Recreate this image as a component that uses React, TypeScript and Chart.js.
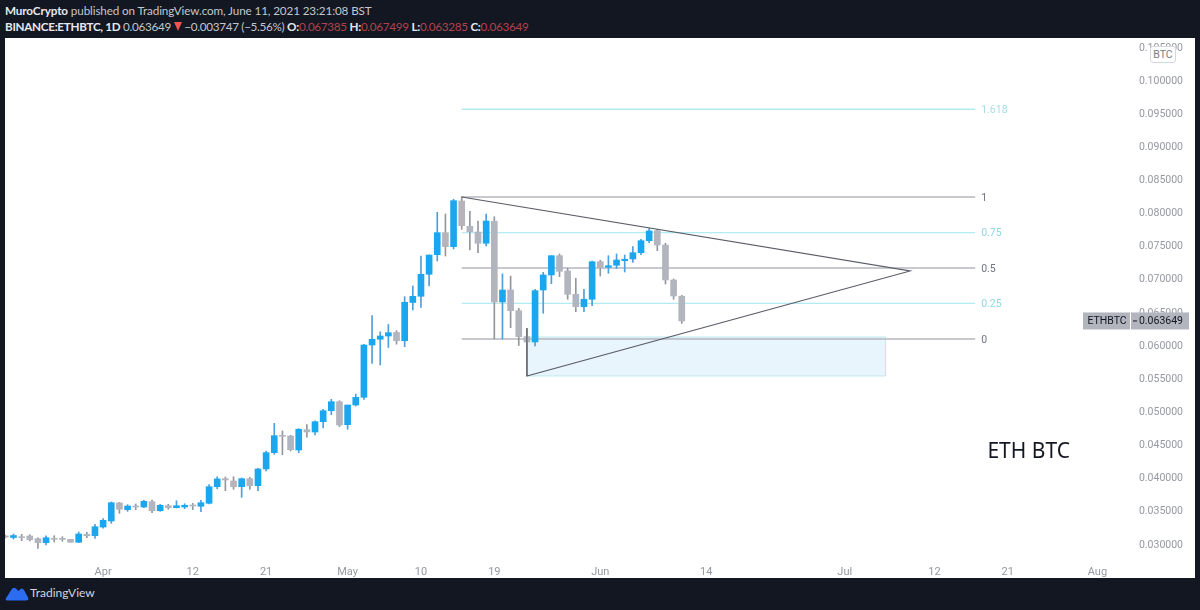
import React, { useEffect, useRef } from "react";
import { Chart, registerables } from "chart.js";

Chart.register(...registerables);

// day numbers count from 1 Apr = 0, first candle sits at day -12
const firstDay = -12;

const opens = [
  0.03121, 0.03098, 0.0311, 0.03121, 0.0308, 0.0302, 0.03086, 0.03086, 0.03071, 0.03026, 0.03146, 0.03125,
  0.03256, 0.03347, 0.03619, 0.03518, 0.03573, 0.03558, 0.03638, 0.03502, 0.03578, 0.03548, 0.03558, 0.03588,
  0.03569, 0.03614, 0.03865, 0.03985, 0.03951, 0.03865, 0.03985, 0.0388, 0.04132, 0.04378, 0.0464, 0.0463,
  0.04418, 0.04725, 0.0469, 0.04845, 0.05011, 0.05147, 0.048, 0.05097, 0.05213, 0.06002, 0.06089, 0.06138,
  0.06191, 0.06067, 0.06644, 0.06737, 0.07069, 0.07365, 0.07697, 0.07486, 0.08175, 0.07793, 0.07707, 0.07537,
  0.07869, 0.06651, 0.06832, 0.0652, 0.06128, 0.06048, 0.06832, 0.07059, 0.0735, 0.07119, 0.06767, 0.0658,
  0.06692, 0.07259, 0.07175, 0.07205, 0.07274, 0.073, 0.07395, 0.07576, 0.07727, 0.07511, 0.06983, 0.067385,
];
const highs = [
  0.03136, 0.03151, 0.03146, 0.0314, 0.03095, 0.03125, 0.03125, 0.0311, 0.03071, 0.03181, 0.03177, 0.03297,
  0.03382, 0.03634, 0.03629, 0.03593, 0.03604, 0.03664, 0.03664, 0.03599, 0.03599, 0.03653, 0.03608, 0.03614,
  0.03659, 0.03895, 0.04015, 0.04011, 0.04015, 0.03996, 0.04006, 0.04142, 0.04403, 0.04821, 0.04705, 0.0464,
  0.0474, 0.048, 0.0486, 0.05032, 0.05183, 0.05162, 0.05097, 0.05263, 0.06013, 0.06445, 0.06203, 0.06312,
  0.06218, 0.06731, 0.06893, 0.07345, 0.0736, 0.08005, 0.07979, 0.08201, 0.0824, 0.0802, 0.07873, 0.07979,
  0.07938, 0.07074, 0.07041, 0.06556, 0.06254, 0.06843, 0.07099, 0.0735, 0.07376, 0.0716, 0.07009, 0.06843,
  0.0727, 0.07281, 0.0735, 0.07376, 0.0736, 0.07486, 0.07597, 0.07763, 0.07748, 0.07537, 0.06998, 0.067499,
];
const lows = [
  0.03091, 0.03075, 0.0305, 0.03045, 0.02935, 0.02985, 0.0303, 0.03041, 0.03026, 0.0302, 0.03095, 0.03086,
  0.03237, 0.03312, 0.03463, 0.03493, 0.03518, 0.03548, 0.03472, 0.03493, 0.03524, 0.03543, 0.03533, 0.03518,
  0.03487, 0.03604, 0.03834, 0.03804, 0.03825, 0.03705, 0.03825, 0.03804, 0.04101, 0.04353, 0.04347, 0.04403,
  0.04378, 0.0461, 0.04645, 0.0475, 0.04951, 0.0477, 0.04731, 0.05082, 0.05183, 0.05726, 0.05701, 0.05965,
  0.06015, 0.05977, 0.06531, 0.06571, 0.06893, 0.0727, 0.07345, 0.07451, 0.07748, 0.07436, 0.07395, 0.07496,
  0.06093, 0.06093, 0.06264, 0.05995, 0.05539, 0.05987, 0.06481, 0.06927, 0.07033, 0.06692, 0.06505, 0.06505,
  0.06595, 0.07044, 0.07084, 0.07154, 0.07104, 0.0725, 0.07365, 0.07546, 0.07425, 0.06923, 0.06692, 0.063285,
];
const closes = [
  0.03106, 0.03128, 0.03095, 0.03065, 0.0302, 0.03095, 0.03071, 0.03071, 0.03026, 0.03151, 0.03125, 0.03261,
  0.03358, 0.03623, 0.03524, 0.03573, 0.03558, 0.03644, 0.03502, 0.03584, 0.03548, 0.03578, 0.03584, 0.03573,
  0.03623, 0.03865, 0.03981, 0.03966, 0.03865, 0.03985, 0.0388, 0.04132, 0.04378, 0.04634, 0.04625, 0.04423,
  0.04731, 0.0469, 0.04845, 0.05011, 0.05147, 0.04795, 0.05097, 0.05213, 0.06002, 0.06089, 0.06138, 0.06188,
  0.06067, 0.06647, 0.06737, 0.07069, 0.0736, 0.07697, 0.07486, 0.0818, 0.07803, 0.07712, 0.07537, 0.07873,
  0.06651, 0.06832, 0.0652, 0.06128, 0.06048, 0.06822, 0.07059, 0.0735, 0.07114, 0.06767, 0.0658, 0.06692,
  0.07259, 0.07169, 0.07199, 0.07285, 0.07296, 0.07395, 0.07576, 0.07723, 0.07511, 0.06983, 0.06742, 0.063649,
];

const fibLevels = ["1.618", "1", "0.75", "0.5", "0.25", "0"];
const fibPrices = [0.09559, 0.08235, 0.07699, 0.07164, 0.06629, 0.06093];
const fibColors = ["#b2ebf2", "#b5b7be", "#b2ebf2", "#b5b7be", "#b2ebf2", "#b5b7be"];
const fibTextColors = ["#a3dfe9", "#6f7380", "#8fd6e2", "#6f7380", "#8fd6e2", "#6f7380"];
const fibDays = [44, 107];

const trendDays = [44, 99, 52, 52];
const trendPrices = [0.08235, 0.07119, 0.05535, 0.06254];

const boxDays = [52, 96];
const boxTop = 0.06123;
const boxBottom = 0.05535;

const tickDays = [0, 11, 20, 30, 39, 48, 61, 74, 91, 102, 111, 122];
const tickLabels = ["Apr", "12", "21", "May", "10", "19", "Jun", "14", "Jul", "12", "21", "Aug"];
const priceTicks = [0.03, 0.035, 0.04, 0.045, 0.05, 0.055, 0.06, 0.065, 0.07, 0.075, 0.08, 0.085, 0.09, 0.095, 0.1, 0.105];

const UP = "#1ba7ef";
const DOWN = "#b2b5be";
const UP_WICK = "#4f9fdc";
const DOWN_WICK = "#94969e";
const BOX_FILL = "rgba(187, 225, 245, 0.33)";
const FONT = '"Noto Sans", sans-serif';
const AXIS_FONT = "Roboto, sans-serif";
const HEADER_FONT = "Lato, sans-serif";

const lastClose = closes[closes.length - 1];
const isUp = closes.map((c, i) => c >= opens[i]);
const day = (i: number) => firstDay + i;

// fib labels, chart title note and the last price tag
const overlayPlugin = {
  id: "overlay",
  afterDraw(chart: any) {
    const { ctx, scales } = chart;
    const x = scales.x;
    const y = scales.y;
    ctx.save();
    ctx.textBaseline = "middle";
    ctx.textAlign = "left";
    ctx.font = `10.5px ${AXIS_FONT}`;
    fibLevels.forEach((label, i) => {
      ctx.fillStyle = fibTextColors[i];
      ctx.fillText(label, x.getPixelForValue(fibDays[1]) + 6, y.getPixelForValue(fibPrices[i]) + 1);
    });

    ctx.font = `21px ${FONT}`;
    ctx.fillStyle = "#131722";
    ctx.fillText("ETH BTC", x.getPixelForValue(108.5), y.getPixelForValue(0.04395));

    // price tag on the axis
    const tagY = y.getPixelForValue(lastClose);
    ctx.fillStyle = DOWN;
    ctx.fillRect(1078, tagY - 8.5, 47, 17);
    ctx.fillRect(1126, tagY - 8.5, 58, 17);
    ctx.fillStyle = "#131722";
    ctx.fillRect(1128, tagY - 0.5, 4, 1);
    ctx.font = `10.5px ${AXIS_FONT}`;
    ctx.textAlign = "center";
    ctx.fillText("ETHBTC", 1102, tagY + 0.5);
    ctx.textAlign = "right";
    ctx.fillText(lastClose.toFixed(6), 1178, tagY + 0.5);
    ctx.restore();
  },
};

const CandleChart = () => {
  const chartRef = useRef<HTMLCanvasElement>(null);

  useEffect(() => {
    if (!chartRef.current) return;
    const lineBase = { type: "line", pointRadius: 0, tension: 0, fill: false };
    const datasets: any[] = [
      {
        type: "line",
        data: boxDays.map((d) => ({ x: d, y: boxTop })),
        pointRadius: 0,
        borderWidth: 0,
        backgroundColor: BOX_FILL,
        fill: { target: { value: boxBottom }, above: BOX_FILL },
        order: 6,
      },
      {
        ...lineBase,
        data: [
          { x: boxDays[0], y: boxTop },
          { x: boxDays[1], y: boxTop },
          { x: boxDays[1], y: boxBottom },
          { x: boxDays[0], y: boxBottom },
          { x: boxDays[0], y: boxTop },
        ],
        borderColor: "#bfe9ef",
        borderWidth: 1,
        order: 5,
      },
      ...fibPrices.map((price, i) => ({
        ...lineBase,
        data: fibDays.map((d) => ({ x: d, y: price })),
        borderColor: fibColors[i],
        borderWidth: 1.3,
        order: 4,
      })),
      {
        type: "bar",
        data: highs.map((h, i) => ({ x: day(i), y: [lows[i], h] })),
        backgroundColor: isUp.map((u) => (u ? UP_WICK : DOWN_WICK)),
        barThickness: 1,
        grouped: false,
        order: 3,
      },
      {
        type: "bar",
        data: opens.map((o, i) => ({ x: day(i), y: [o, closes[i]] })),
        backgroundColor: isUp.map((u) => (u ? UP : DOWN)),
        barThickness: 6,
        grouped: false,
        order: 2,
      },
      {
        ...lineBase,
        data: trendDays.map((d, i) => ({ x: d, y: trendPrices[i] })),
        borderColor: "#5a5d68",
        borderWidth: 1.2,
        order: 1,
      },
    ];

    const chart = new Chart(chartRef.current, {
      type: "bar",
      data: { datasets },
      plugins: [overlayPlugin],
      options: {
        animation: false,
        responsive: false,
        layout: { padding: { top: 0, bottom: 0, left: 0, right: 12 } },
        plugins: { legend: { display: false }, tooltip: { enabled: false } },
        scales: {
          x: {
            type: "linear",
            offset: false,
            min: -12.04,
            max: 126,
            grid: { display: false },
            border: { display: false },
            afterBuildTicks: (axis: any) => {
              axis.ticks = tickDays.map((value) => ({ value }));
            },
            afterFit: (axis: any) => {
              axis.height = 22;
              axis.paddingLeft = 0;
              axis.paddingRight = 0;
            },
            ticks: {
              autoSkip: false,
              maxRotation: 0,
              padding: 2,
              color: "#9598a1",
              font: { family: AXIS_FONT, size: 11 },
              callback: (value: any) => tickLabels[tickDays.indexOf(value)],
            },
          },
          y: {
            type: "linear",
            position: "right",
            min: 0.02819,
            max: 0.10634,
            grid: { display: false },
            border: { display: false },
            afterBuildTicks: (axis: any) => {
              axis.ticks = priceTicks.map((value) => ({ value }));
            },
            afterFit: (axis: any) => {
              axis.width = 53;
              axis.paddingTop = 0;
              axis.paddingBottom = 0;
            },
            ticks: {
              crossAlign: "far",
              padding: 0,
              labelOffset: 1,
              color: "#9598a1",
              font: { family: AXIS_FONT, size: 10.5 },
              callback: (value: any) => Number(value).toFixed(6),
            },
          },
        },
      },
    } as any);
    return () => {
      chart.destroy();
    };
  }, []);

  return <canvas ref={chartRef} width={1190} height={540} style={{ display: "block" }} />;
};

const red = { color: "#b3424a" };
const bold = { fontWeight: 700, color: "#e6e8ee" };

export default function App() {
  return (
    <div style={{ position: "fixed", left: 0, top: 0, width: 1200, height: 610, background: "#131722", overflow: "hidden", fontFamily: HEADER_FONT, fontSize: 11.7, color: "#c3c6ce" }}>
      <div style={{ position: "absolute", left: 5, top: 2, whiteSpace: "nowrap", lineHeight: "16px", letterSpacing: -0.12 }}>
        <span style={bold}>MuroCrypto</span> published on TradingView.com, June 11, 2021 23:21:08 BST
      </div>
      <div style={{ position: "absolute", left: 5, top: 18, whiteSpace: "nowrap", lineHeight: "16px", letterSpacing: -0.3 }}>
        <span style={bold}>BINANCE:ETHBTC, 1D</span> 0.063649{" "}
        <span style={{ display: "inline-block", width: 0, height: 0, borderLeft: "4px solid transparent", borderRight: "4px solid transparent", borderTop: "9px solid #ef5350" }} />{" "}
        −0.003747 (−5.56%) <span style={bold}>O:</span><span style={red}>0.067385</span> <span style={bold}>H:</span><span style={red}>0.067499</span>{" "}
        <span style={bold}>L:</span><span style={red}>0.063285</span> <span style={bold}>C:</span><span style={red}>0.063649</span>
      </div>
      <div style={{ position: "absolute", left: 5, top: 38, width: 1190, height: 540, background: "#ffffff" }}>
        <CandleChart />
      </div>
      <div style={{ position: "absolute", left: 1150, top: 46, width: 24, height: 15, lineHeight: "15px", textAlign: "center", border: "1px solid #d6d8de", borderRadius: 3, background: "#ffffff", color: "#787b86", fontFamily: AXIS_FONT, fontSize: 10.5 }}>
        BTC
      </div>
      <svg style={{ position: "absolute", left: 5, top: 586 }} width="24" height="15" viewBox="0 0 24 15">
        <path d="M0.5 13 L6.5 3.5 Q8.5 0.5 11 2.5 L13.5 5 L15.5 3 Q17.5 1.5 19 4 L23.5 12.5 Q23.5 14.5 21 14.5 L3 14.5 Q0.5 14.5 0.5 13 Z" fill="#2b6cf0" />
      </svg>
      <div style={{ position: "absolute", left: 30, top: 584, lineHeight: "18px", fontSize: 12, color: "#d1d4dc" }}>TradingView</div>
    </div>
  );
}
